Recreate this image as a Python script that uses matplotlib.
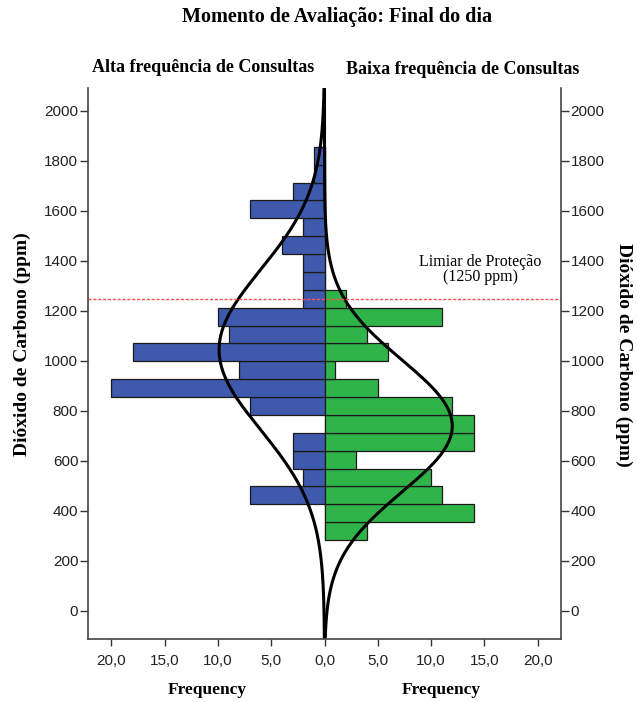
import numpy as np
import matplotlib
matplotlib.use("Agg")
import matplotlib.pyplot as plt
from matplotlib.ticker import FuncFormatter

# histogram bins (ppm), 22 bins of ~71.5 ppm starting at 284
bin_start = 284.0
bin_width = 71.5
n_bins = 22

# counts per bin, from lowest bin upwards
alta_counts = [0, 0, 7, 2, 3, 3, 0, 7, 20, 8, 18, 9, 10, 2, 2, 2, 4, 2, 7, 3, 1, 1]
baixa_counts = [4, 14, 11, 10, 3, 14, 14, 12, 5, 1, 6, 4, 11, 2, 0, 0, 0, 0, 0, 0, 0, 0]

# normal curve parameters (mean, sd)
alta_mean, alta_sd = 1045.0, 320.0
baixa_mean, baixa_sd = 740.0, 264.0

threshold = 1250
y_ticks = [0, 200, 400, 600, 800, 1000, 1200, 1400, 1600, 1800, 2000]
x_ticks = [-20, -15, -10, -5, 0, 5, 10, 15, 20]

serif = ['Liberation Serif', 'DejaVu Serif']
sans = ['Liberation Sans', 'DejaVu Sans']
tick_size = 11

fig = plt.figure(figsize=(6.37, 7.02), dpi=100)
ax = fig.add_axes([88 / 637, 1 - 639 / 702, (561 - 88) / 637, (639 - 88) / 702])

edges = bin_start + bin_width * np.arange(n_bins + 1)
centers = edges[:-1] + bin_width / 2

blue = '#3f59ad'
green = '#30b44a'
ax.barh(centers, -np.array(alta_counts), height=bin_width, color=blue,
        edgecolor='#1a1a1a', linewidth=0.9)
ax.barh(centers, baixa_counts, height=bin_width, color=green,
        edgecolor='#1a1a1a', linewidth=0.9)

ymin, ymax = -112, 2092
yy = np.linspace(ymin, ymax, 600)


def normal_curve(mean, sd, n):
    return n * bin_width / (sd * np.sqrt(2 * np.pi)) * np.exp(-0.5 * ((yy - mean) / sd) ** 2)


ax.plot(-normal_curve(alta_mean, alta_sd, sum(alta_counts)), yy, color='black', lw=2.2)
ax.plot(normal_curve(baixa_mean, baixa_sd, sum(baixa_counts)), yy, color='black', lw=2.2)

ax.axhline(threshold, color='#ff4d4d', ls=(0, (2.2, 1.3)), lw=1.0)
ax.text(14.6, 1365, 'Limiar de Proteção\n(1250 ppm)', ha='center', va='center',
        family=serif, fontsize=11.5, linespacing=0.95)

ax.set_xlim(-22.2, 22.2)
ax.set_ylim(ymin, ymax)
ax.set_xticks(x_ticks)
ax.xaxis.set_major_formatter(FuncFormatter(lambda v, p: f'{abs(v):.1f}'.replace('.', ',')))
ax.set_yticks(y_ticks)
ax.tick_params(axis='y', which='both', left=True, right=True, labelleft=True,
               labelright=True, length=6, width=1, color='#333333', pad=1)
ax.tick_params(axis='x', length=5, width=1, color='#333333', pad=6)
for lab in ax.get_xticklabels() + ax.get_yticklabels():
    lab.set_family(sans)
    lab.set_fontsize(tick_size)
    lab.set_color('#222222')
for t in ax.yaxis.get_major_ticks():
    t.label2.set_family(sans)
    t.label2.set_fontsize(tick_size)
    t.label2.set_color('#222222')

ax.spines['top'].set_visible(False)
for s in ['left', 'right', 'bottom']:
    ax.spines[s].set_color('#444444')
    ax.spines[s].set_linewidth(1.2)

fig.text(337 / 637, 1 - 17 / 702, 'Momento de Avaliação: Final do dia', ha='center', va='center',
         family=serif, fontweight='bold', fontsize=14.5)
fig.text(203 / 637, 1 - 68 / 702, 'Alta frequência de Consultas', ha='center', va='center',
         family=serif, fontweight='bold', fontsize=13)
fig.text(463 / 637, 1 - 70 / 702, 'Baixa frequência de Consultas', ha='center', va='center',
         family=serif, fontweight='bold', fontsize=13)
fig.text(22 / 637, 1 - 344 / 702, 'Dióxido de Carbono (ppm)', ha='center', va='center',
         rotation=90, family=serif, fontweight='bold', fontsize=14)
fig.text(624 / 637, 1 - 355 / 702, 'Dióxido de Carbono (ppm)', ha='center', va='center',
         rotation=270, family=serif, fontweight='bold', fontsize=14)
fig.text(207 / 637, 1 - 690 / 702, 'Frequency', ha='center', va='center',
         family=serif, fontweight='bold', fontsize=12.5)
fig.text(441 / 637, 1 - 690 / 702, 'Frequency', ha='center', va='center',
         family=serif, fontweight='bold', fontsize=12.5)

fig.savefig('out.png', dpi=100)
